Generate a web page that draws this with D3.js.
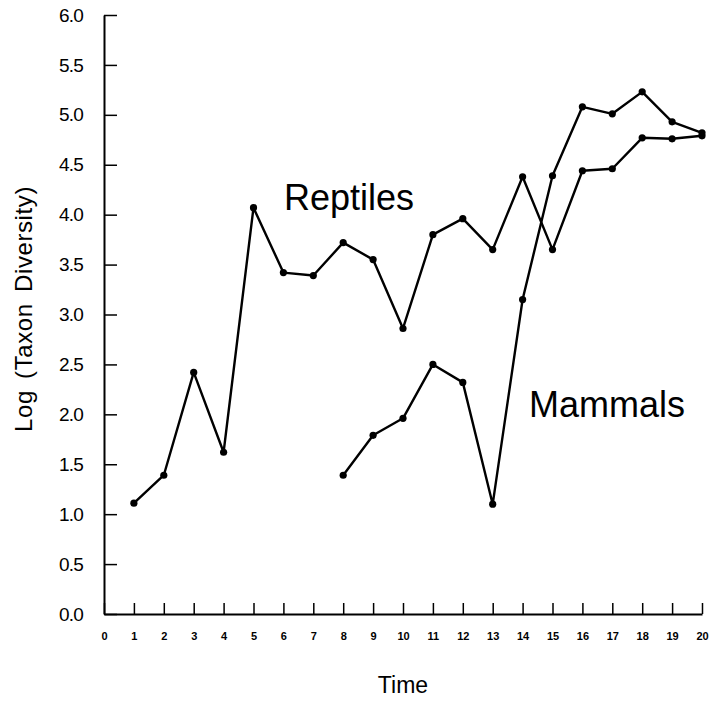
<!DOCTYPE html>
<html>
<head>
<meta charset="utf-8">
<script src="https://cdn.jsdelivr.net/npm/d3@7"></script>
<style>
  body { margin: 0; background: #fff; }
  svg { display: block; }
</style>
</head>
<body>
<svg id="chart" width="711" height="702"></svg>
<script>
// time steps and series (log taxon diversity)
const timeTicks = d3.range(0, 21);
const yTicks = [0, 0.5, 1, 1.5, 2, 2.5, 3, 3.5, 4, 4.5, 5, 5.5, 6];

const reptileTime = [1, 2, 3, 4, 5, 6, 7, 8, 9, 10, 11, 12, 13, 14, 15, 16, 17, 18, 19, 20];
const reptileValues = [1.11, 1.39, 2.42, 1.62, 4.07, 3.42, 3.39, 3.72, 3.55, 2.86, 3.80, 3.96, 3.65, 4.38, 3.65, 4.44, 4.46, 4.77, 4.76, 4.79];

const mammalTime = [8, 9, 10, 11, 12, 13, 14, 15, 16, 17, 18, 19, 20];
const mammalValues = [1.39, 1.79, 1.96, 2.50, 2.32, 1.10, 3.15, 4.39, 5.08, 5.01, 5.23, 4.93, 4.82];

const svg = d3.select('#chart');

const plotLeft = 104, plotRight = 702, plotTop = 15, plotBottom = 614;

const x = d3.scaleLinear().domain([0, 20]).range([plotLeft, plotRight]);
const y = d3.scaleLinear().domain([0, 6]).range([plotBottom, plotTop]);

// X axis (ticks point up into the plot)
const xAxis = svg.append('g')
  .attr('transform', 'translate(0,' + plotBottom + ')')
  .call(d3.axisBottom(x).tickValues(timeTicks).tickFormat(d3.format('d'))
    .tickSizeInner(-11).tickSizeOuter(0).tickPadding(18));
xAxis.select('.domain').attr('stroke-width', 2);
xAxis.selectAll('.tick line').attr('stroke-width', 1.5);
xAxis.selectAll('.tick text')
  .attr('font-family', 'Liberation Sans, Arial, sans-serif')
  .attr('font-size', 11)
  .attr('font-weight', 'bold')
  .attr('fill', '#000');

// Y axis (ticks point right into the plot)
const yAxis = svg.append('g')
  .attr('transform', 'translate(' + plotLeft + ',0)')
  .call(d3.axisLeft(y).tickValues(yTicks).tickFormat(d3.format('.1f'))
    .tickSizeInner(-13).tickSizeOuter(0).tickPadding(21));
yAxis.select('.domain').attr('stroke-width', 2);
yAxis.selectAll('.tick line').attr('stroke-width', 1.5);
yAxis.selectAll('.tick text')
  .attr('font-family', 'Liberation Sans, Arial, sans-serif')
  .attr('font-size', 19)
  .attr('letter-spacing', -0.8)
  .attr('fill', '#000');

// axis titles
svg.append('text')
  .attr('x', 403).attr('y', 693)
  .attr('text-anchor', 'middle')
  .attr('font-family', 'Liberation Sans, Arial, sans-serif')
  .attr('font-size', 23)
  .text('Time');

svg.append('text')
  .attr('transform', 'translate(32,309) rotate(-90)')
  .attr('text-anchor', 'middle')
  .attr('font-family', 'Liberation Sans, Arial, sans-serif')
  .attr('font-size', 24)
  .attr('letter-spacing', 0.6)
  .attr('word-spacing', 4)
  .text('Log (Taxon Diversity)');

// series
const series = [
  { name: 'Reptiles', t: reptileTime, v: reptileValues },
  { name: 'Mammals', t: mammalTime, v: mammalValues }
];

const line = d3.line().x(d => x(d[0])).y(d => y(d[1]));

series.forEach(s => {
  const pts = s.t.map((t, i) => [t, s.v[i]]);
  svg.append('path')
    .datum(pts)
    .attr('fill', 'none')
    .attr('stroke', '#000')
    .attr('stroke-width', 2.4)
    .attr('stroke-linejoin', 'round')
    .attr('d', line);
  svg.append('g')
    .selectAll('circle')
    .data(pts)
    .enter()
    .append('circle')
    .attr('cx', d => x(d[0]))
    .attr('cy', d => y(d[1]))
    .attr('r', 3.6)
    .attr('fill', '#000');
});

// series labels
svg.append('text')
  .attr('x', 284).attr('y', 210)
  .attr('font-family', 'Liberation Sans, Arial, sans-serif')
  .attr('font-size', 36)
  .text('Reptiles');

svg.append('text')
  .attr('x', 529).attr('y', 417)
  .attr('font-family', 'Liberation Sans, Arial, sans-serif')
  .attr('font-size', 36)
  .text('Mammals');
</script>
</body>
</html>
